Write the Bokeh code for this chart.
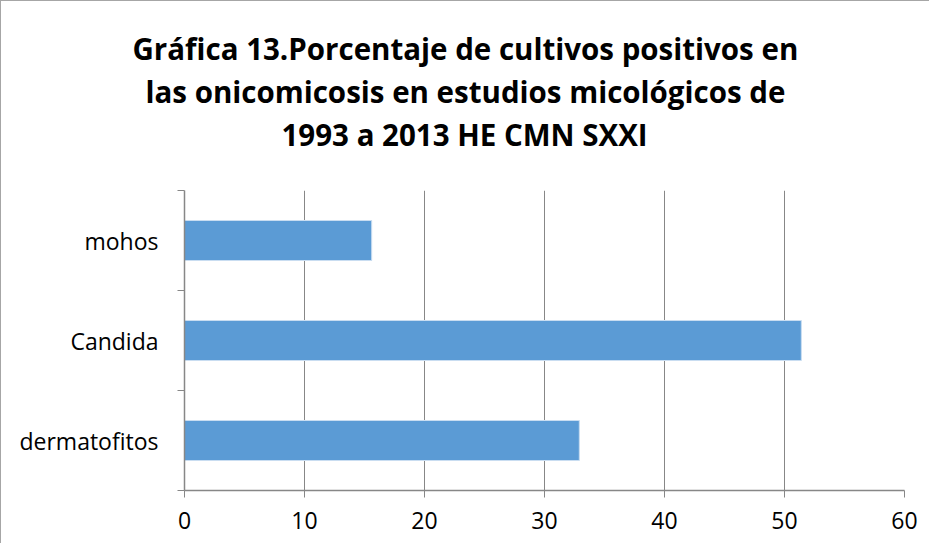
from bokeh.plotting import figure
from bokeh.models import FixedTicker, Title, ColumnDataSource, Range1d
from bokeh.embed import file_html
from bokeh.resources import INLINE

categories = ["dermatofitos", "Candida", "mohos"]
values = [32.9, 51.4, 15.6]
x_ticks = [0, 10, 20, 30, 40, 50, 60]
title_lines = [
    "Gráfica 13.Porcentaje de cultivos positivos en",
    "las onicomicosis en estudios micológicos de",
    "1993 a 2013 HE CMN SXXI",
]
# horizontal shift of each title line (left-aligned) so lines are centred on the chart
title_offsets = [-52, -39, 97]

pos = list(range(len(categories)))
source = ColumnDataSource(dict(y=pos, v=values, cat=categories))

GRAY = "#878787"
FONT = "Open Sans"

p = figure(width=929, height=543, output_backend="svg", toolbar_location=None,
           x_range=Range1d(0, 60), y_range=Range1d(-0.5, len(categories) - 0.5),
           min_border_left=183, min_border_right=26, min_border_top=189,
           min_border_bottom=54, title=None)
p.styles = {"border-top": "1px solid #a6a6a6", "border-left": "1px solid #a6a6a6"}

p.hbar(y="y", right="v", left=0, height=0.4, source=source,
       fill_color="#5B9BD5", line_color="#c9ddf1", line_width=1)

p.outline_line_color = None
p.ygrid.grid_line_color = None
p.xgrid.grid_line_color = GRAY
p.xgrid.grid_line_width = 1
p.xgrid.ticker = FixedTicker(ticks=x_ticks)

xa = p.xaxis[0]
xa.ticker = FixedTicker(ticks=x_ticks)
xa.axis_line_color = GRAY
xa.axis_line_width = 1.5
xa.major_tick_line_color = GRAY
xa.major_tick_out = 7
xa.major_tick_in = 0
xa.minor_tick_line_color = None
xa.major_label_text_font = FONT
xa.major_label_text_font_size = "23px"
xa.major_label_text_color = "#000000"
xa.major_label_standoff = 14

ya = p.yaxis[0]
ya.ticker = FixedTicker(ticks=pos, minor_ticks=[i - 0.5 for i in range(len(categories) + 1)])
ya.major_label_overrides = {i: c for i, c in zip(pos, categories)}
ya.axis_line_color = GRAY
ya.axis_line_width = 1.5
ya.major_tick_line_color = None
ya.major_tick_out = 0
ya.major_tick_in = 0
ya.minor_tick_line_color = GRAY
ya.minor_tick_out = 7
ya.minor_tick_in = 0
ya.major_label_text_font = FONT
ya.major_label_text_font_size = "23px"
ya.major_label_text_color = "#000000"
ya.major_label_standoff = 19

# spacer between title block and plot frame
p.add_layout(Title(text=" ", text_font=FONT, text_font_size="25px", standoff=0), "above")
for line, off in zip(reversed(title_lines), reversed(title_offsets)):
    p.add_layout(Title(text=line, align="left", offset=off,
                       text_font=FONT, text_font_size="29.5px",
                       text_font_style="bold", text_color="#000000",
                       standoff=0), "above")

open("out.html", "w").write(file_html(p, INLINE))
